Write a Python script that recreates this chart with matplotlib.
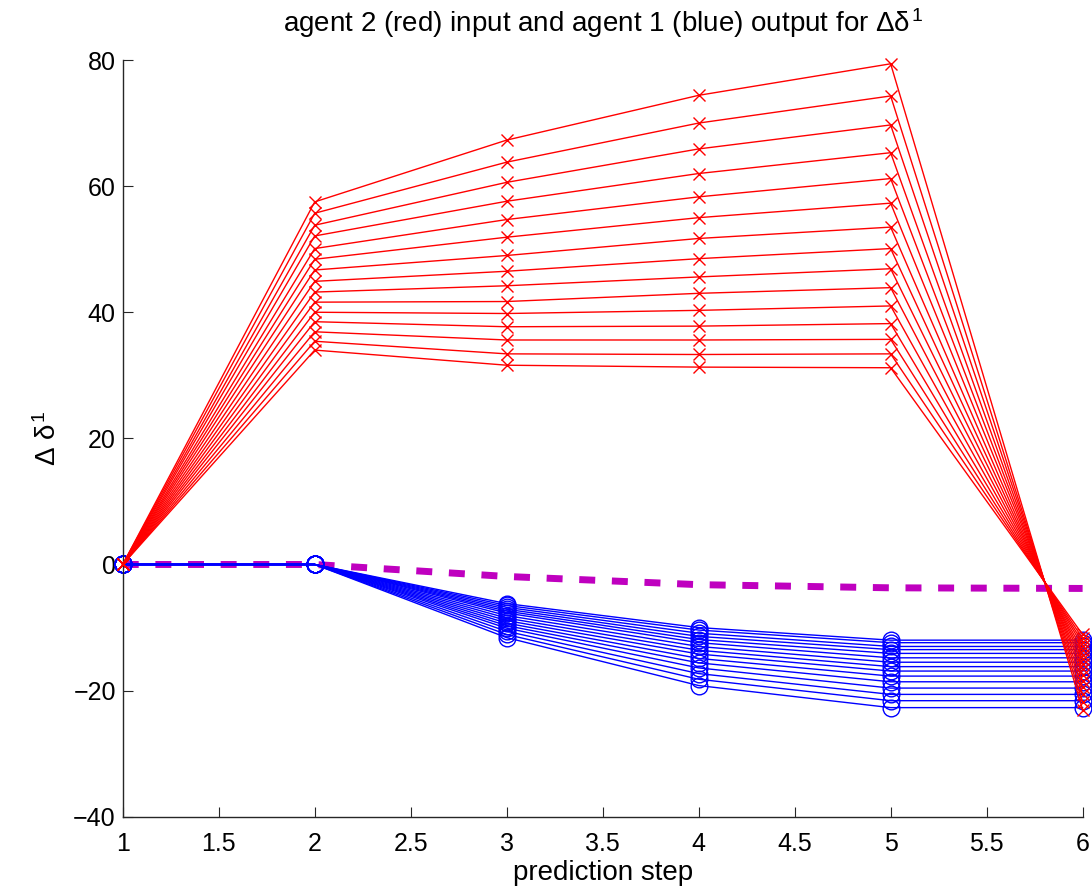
import numpy as np
import matplotlib
matplotlib.use("Agg")
import matplotlib.pyplot as plt

plt.rcParams['font.family'] = ['Liberation Sans', 'DejaVu Sans']
plt.rcParams['mathtext.fontset'] = 'custom'
plt.rcParams['mathtext.rm'] = 'Liberation Sans'
plt.rcParams['mathtext.it'] = 'Liberation Sans'
plt.rcParams['mathtext.bf'] = 'Liberation Sans:bold'

"Data read from the chart"
steps = [1, 2, 3, 4, 5, 6]

# agent 2 (red) input, one value per line at each prediction step
red_step1 = [0.0] * 15
red_step2 = [57.5, 55.7, 53.8, 52.1, 50.1, 48.4, 46.7, 44.9, 43.2, 41.6, 40.0, 38.5, 36.9, 35.4, 34.0]
red_step3 = [67.3, 63.8, 60.6, 57.6, 54.7, 51.9, 49.0, 46.5, 44.2, 41.7, 39.8, 37.7, 35.6, 33.4, 31.6]
red_step4 = [74.4, 70.0, 65.9, 62.0, 58.3, 55.0, 51.7, 48.5, 45.6, 43.0, 40.3, 37.8, 35.6, 33.3, 31.3]
red_step5 = [79.4, 74.3, 69.7, 65.3, 61.2, 57.3, 53.5, 50.1, 46.9, 43.9, 41.0, 38.2, 35.7, 33.4, 31.2]
red_step6 = [-23.0, -21.8, -20.6, -19.5, -18.5, -17.5, -16.6, -15.8, -15.0, -14.3, -13.6, -12.9, -12.3, -11.7, -11.1]

# agent 1 (blue) output
blue_step1 = [0.0] * 15
blue_step2 = [0.0] * 15
blue_step3 = [-6.2, -6.5, -6.8, -7.1, -7.4, -7.7, -8.1, -8.5, -8.9, -9.3, -9.7, -10.1, -10.6, -11.1, -11.6]
blue_step4 = [-10.0, -10.4, -10.9, -11.4, -11.9, -12.4, -13.0, -13.6, -14.2, -14.9, -15.6, -16.4, -17.3, -18.2, -19.2]
blue_step5 = [-12.0, -12.4, -13.0, -13.5, -14.1, -14.8, -15.5, -16.2, -16.9, -17.7, -18.6, -19.6, -20.6, -21.6, -22.7]
blue_step6 = [-12.0, -12.4, -13.0, -13.5, -14.1, -14.8, -15.5, -16.2, -16.9, -17.7, -18.6, -19.6, -20.6, -21.6, -22.7]

# magenta dashed reference
ref_values = [0.0, 0.0, -1.9, -3.2, -3.7, -3.8]

red_lines = np.array([red_step1, red_step2, red_step3, red_step4, red_step5, red_step6]).T
blue_lines = np.array([blue_step1, blue_step2, blue_step3, blue_step4, blue_step5, blue_step6]).T

fig = plt.figure(figsize=(10.92, 8.89), dpi=100)
ax = fig.add_axes([0.1124, 0.0813, 0.879, 0.8512])

ax.plot(steps, ref_values, color='#bf00bf', linewidth=5, dashes=(2.3, 2.4),
        dash_capstyle='butt', zorder=1)

for row in blue_lines:
    ax.plot(steps, row, color='#0000ff', linewidth=1.0, marker='o', markersize=12,
            markerfacecolor='none', markeredgewidth=1.0, zorder=2, clip_on=False)

for row in red_lines:
    ax.plot(steps, row, color='#ff0000', linewidth=1.0, marker='x', markersize=8,
            markeredgewidth=1.0, zorder=3, clip_on=False)

ax.set_xlim(1, 6)
ax.set_ylim(-40, 80)
ax.set_xticks(np.arange(1, 6.01, 0.5))
ax.set_xticklabels(['1', '1.5', '2', '2.5', '3', '3.5', '4', '4.5', '5', '5.5', '6'])
ax.set_yticks(np.arange(-40, 81, 20))
ax.set_yticklabels(['\u221240', '\u221220', '0', '20', '40', '60', '80'])

ax.spines['top'].set_visible(False)
ax.spines['right'].set_visible(False)
for s in ['left', 'bottom']:
    ax.spines[s].set_color('#262626')
    ax.spines[s].set_linewidth(1.0)
ax.tick_params(direction='in', length=7, width=0.8, labelsize=18, color='#262626')
ax.tick_params(axis='x', pad=11)
ax.tick_params(axis='y', pad=5)

ax.set_title(r'agent 2 (red) input and agent 1 (blue) output for $\Delta\delta^1$', fontsize=20, pad=20)
ax.set_xlabel('prediction step', fontsize=20, labelpad=3)
ax.set_ylabel(r'$\Delta\ \delta^1$', fontsize=20, labelpad=8)

fig.savefig('out.png', dpi=100)
